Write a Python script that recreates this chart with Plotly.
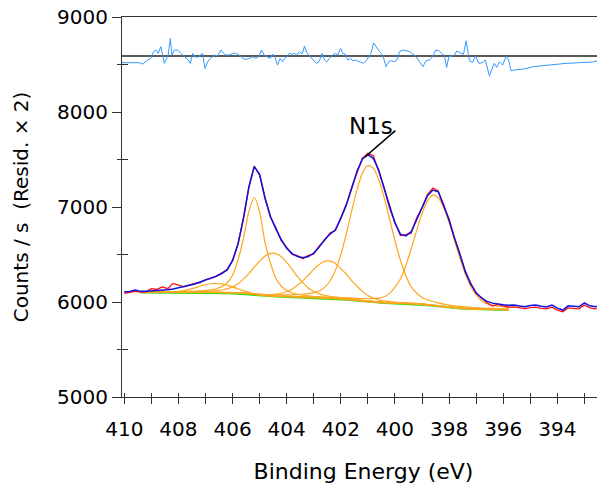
import plotly.graph_objects as go

# measured spectrum, binding energy (eV)
data_e = [
    410.0, 409.8, 409.6, 409.4, 409.2, 409.0, 408.8, 408.6, 408.4, 408.2,
    408.0, 407.8, 407.6, 407.4, 407.2, 407.0, 406.8, 406.6, 406.4, 406.2,
    406.0, 405.8, 405.6, 405.4, 405.2, 405.0, 404.8, 404.6, 404.4, 404.2,
    404.0, 403.8, 403.6, 403.4, 403.2, 403.0, 402.8, 402.6, 402.4, 402.2,
    402.0, 401.8, 401.6, 401.4, 401.2, 401.0, 400.8, 400.6, 400.4, 400.2,
    400.0, 399.8, 399.6, 399.4, 399.2, 399.0, 398.8, 398.6, 398.4, 398.2,
    398.0, 397.8, 397.6, 397.4, 397.2, 397.0, 396.8, 396.6, 396.4, 396.2,
    396.0, 395.8, 395.6, 395.4, 395.2, 395.0, 394.8, 394.6, 394.4, 394.2,
    394.0, 393.8, 393.6, 393.4, 393.2, 393.0, 392.8, 392.6, 392.4, 392.2,
]
counts = [
    6092, 6100, 6112, 6104, 6108, 6140, 6132, 6158, 6140, 6196,
    6182, 6160, 6178, 6196, 6205, 6235, 6248, 6270, 6306, 6335,
    6440, 6605, 6880, 7200, 7430, 7335, 7100, 6890, 6785, 6645,
    6575, 6500, 6488, 6455, 6490, 6505, 6590, 6648, 6725, 6752,
    6890, 7015, 7205, 7372, 7515, 7565, 7540, 7375, 7205, 6985,
    6845, 6700, 6710, 6725, 6885, 6990, 7130, 7200, 7168, 7005,
    6875, 6665, 6510, 6310, 6200, 6088, 6048, 5990, 5958, 5975,
    5958, 5945, 5948, 5935, 5930, 5940, 5946, 5932, 5928, 5945,
    5915, 5898, 5938, 5932, 5928, 5968, 5938, 5928, 5945, 5946,
]
envelope = [
    6108, 6110, 6126, 6112, 6112, 6115, 6120, 6125, 6130, 6138,
    6150, 6163, 6176, 6190, 6210, 6230, 6252, 6272, 6300, 6340,
    6435, 6612, 6875, 7210, 7425, 7345, 7090, 6900, 6770, 6655,
    6565, 6510, 6478, 6465, 6478, 6515, 6578, 6655, 6715, 6760,
    6880, 7025, 7195, 7380, 7505, 7550, 7512, 7390, 7195, 7000,
    6832, 6714, 6696, 6740, 6870, 7003, 7118, 7178, 7160, 7020,
    6860, 6675, 6495, 6322, 6188, 6097, 6040, 6006, 5988, 5976,
    5970, 5966, 5968, 5958, 5950, 5962, 5968, 5955, 5948, 5968,
    5935, 5915, 5960, 5955, 5950, 5990, 5960, 5950, 5965, 5968,
]

# fit region: background and components (component values are above background)
fit_e = [
    409.4, 409.2, 409.0, 408.8, 408.6, 408.4, 408.2, 408.0, 407.8, 407.6,
    407.4, 407.2, 407.0, 406.8, 406.6, 406.4, 406.2, 406.0, 405.8, 405.6,
    405.4, 405.2, 405.0, 404.8, 404.6, 404.4, 404.2, 404.0, 403.8, 403.6,
    403.4, 403.2, 403.0, 402.8, 402.6, 402.4, 402.2, 402.0, 401.8, 401.6,
    401.4, 401.2, 401.0, 400.8, 400.6, 400.4, 400.2, 400.0, 399.8, 399.6,
    399.4, 399.2, 399.0, 398.8, 398.6, 398.4, 398.2, 398.0, 397.8, 397.6,
    397.4, 397.2, 397.0, 396.8, 396.6, 396.4, 396.2, 396.0, 395.8,
]
background = [
    6100, 6100, 6100, 6100, 6100, 6100, 6100, 6099, 6099, 6099,
    6098, 6098, 6097, 6096, 6095, 6094, 6093, 6091, 6089, 6086,
    6081, 6075, 6069, 6064, 6061, 6058, 6056, 6054, 6052, 6050,
    6047, 6045, 6043, 6041, 6039, 6036, 6033, 6030, 6026, 6020,
    6014, 6008, 6002, 5997, 5993, 5990, 5988, 5986, 5984, 5982,
    5980, 5977, 5973, 5968, 5962, 5955, 5948, 5942, 5937, 5933,
    5929, 5926, 5924, 5922, 5921, 5920, 5919, 5918, 5917,
]
comp_a = [
    0, 0, 0, 0, 1, 3, 6, 12, 21, 34,
    50, 68, 84, 96, 100, 96, 84, 68, 50, 34,
    21, 12, 6, 3, 1, 0, 0, 0, 0, 0,
    0, 0, 0, 0, 0, 0, 0, 0, 0, 0,
    0, 0, 0, 0, 0, 0, 0, 0, 0, 0,
    0, 0, 0, 0, 0, 0, 0, 0, 0, 0,
    0, 0, 0, 0, 0, 0, 0, 0, 0,
]
comp_b = [
    5, 6, 6, 7, 7, 8, 9, 10, 11, 13,
    15, 19, 24, 32, 45, 68, 110, 190, 350, 580,
    870, 1025, 880, 560, 350, 190, 110, 68, 45, 32,
    24, 19, 15, 13, 11, 10, 9, 8, 7, 7,
    6, 6, 5, 5, 5, 5, 5, 4, 4, 4,
    4, 4, 4, 4, 4, 3, 3, 3, 3, 3,
    3, 3, 3, 3, 3, 3, 3, 3, 3,
]
comp_c = [
    6, 6, 6, 7, 7, 8, 8, 9, 10, 11,
    12, 14, 16, 19, 24, 32, 45, 68, 103, 155,
    218, 292, 362, 420, 451, 451, 420, 362, 292, 218,
    155, 103, 68, 45, 32, 24, 19, 16, 14, 12,
    11, 10, 9, 8, 8, 7, 7, 6, 6, 6,
    5, 5, 5, 5, 4, 4, 4, 4, 4, 4,
    4, 4, 3, 3, 3, 3, 3, 3, 3,
]
comp_d = [
    3, 3, 3, 3, 3, 3, 3, 4, 4, 4,
    4, 4, 5, 5, 5, 6, 6, 7, 8, 8,
    9, 10, 12, 14, 18, 25, 36, 54, 84, 128,
    178, 238, 300, 353, 388, 395, 373, 322, 268, 205,
    152, 104, 67, 44, 30, 21, 16, 13, 11, 10,
    9, 8, 7, 7, 6, 6, 5, 5, 5, 4,
    4, 4, 4, 4, 3, 3, 3, 3, 3,
]
comp_e = [
    4, 4, 4, 4, 4, 5, 5, 5, 6, 6,
    6, 7, 7, 8, 8, 9, 9, 10, 10, 11,
    12, 13, 14, 15, 16, 18, 20, 22, 25, 29,
    35, 43, 55, 75, 115, 185, 300, 468, 689, 936,
    1171, 1351, 1436, 1412, 1294, 1109, 886, 659, 458, 297,
    180, 118, 75, 55, 43, 35, 30, 26, 23, 21,
    19, 17, 15, 14, 13, 12, 11, 10, 10,
]
comp_f = [
    3, 3, 3, 3, 3, 3, 3, 3, 3, 3,
    3, 3, 4, 4, 4, 4, 4, 5, 5, 5,
    5, 6, 6, 6, 7, 7, 8, 8, 9, 9,
    10, 10, 11, 12, 13, 14, 15, 17, 19, 21,
    24, 27, 32, 38, 48, 65, 103, 170, 259, 402,
    580, 775, 959, 1096, 1165, 1142, 1046, 894, 712, 529,
    366, 237, 150, 92, 62, 46, 38, 33, 29,
]
components = [comp_a, comp_b, comp_c, comp_d, comp_e, comp_f]

# residual (x2), drawn about its own zero level
resid_zero = 8589
resid_e = [
    410.1, 409.45, 409.32, 409.14, 409.02, 408.92, 408.83, 408.75, 408.65, 408.59,
    408.52, 408.43, 408.38, 408.30, 408.24, 408.15, 408.03, 407.91, 407.78, 407.64,
    407.56, 407.48, 407.39, 407.29, 407.19, 407.11, 407.02, 406.92, 406.82, 406.74,
    406.65, 406.55, 406.43, 406.33, 406.25, 406.12, 406.00, 405.88, 405.75, 405.63,
    405.51, 405.38, 405.26, 405.14, 405.01, 404.93, 404.83, 404.73, 404.61, 404.52,
    404.44, 404.34, 404.24, 404.15, 404.07, 403.97, 403.90, 403.80, 403.71, 403.63,
    403.53, 403.43, 403.34, 403.26, 403.16, 403.03, 402.91, 402.81, 402.69, 402.60,
    402.52, 402.42, 402.30, 402.20, 402.11, 402.01, 401.93, 401.84, 401.74, 401.64,
    401.56, 401.46, 401.37, 401.25, 401.16, 401.06, 400.97, 400.88, 400.79, 400.69,
    400.57, 400.45, 400.33, 400.23, 400.14, 400.02, 399.93, 399.83, 399.71, 399.59,
    399.46, 399.34, 399.22, 399.09, 398.97, 398.85, 398.73, 398.60, 398.50, 398.38,
    398.26, 398.17, 398.09, 398.01, 397.89, 397.80, 397.72, 397.59, 397.47, 397.37,
    397.25, 397.13, 397.03, 396.90, 396.78, 396.66, 396.51, 396.41, 396.33, 396.24,
    396.14, 396.02, 395.89, 395.80, 395.71, 395.59, 395.40, 395.16, 394.91, 394.66,
    394.42, 394.17, 393.68, 393.19, 392.70, 392.51, 392.26, 392.0,
]
resid_v = [
    -70, -70, -84, -42, -25, 46, 63, 28, 98, 11,
    -77, -25, 11, 186, 11, 63, 63, 28, -7, -42,
    -77, 28, -7, -14, 11, 28, -130, -60, -25, -7,
    11, 0, 63, 28, 11, 11, 28, 28, 11, -25,
    -35, -25, -7, -25, 0, 63, 11, -7, -25, 21,
    -7, -95, -25, -60, -25, 0, 28, 21, 28, 11,
    46, 21, 105, 35, 0, -42, -77, -60, 28, -42,
    -60, -25, 11, 28, 11, 81, 28, 21, -42, -25,
    -49, -42, -53, -67, -77, -49, -7, 35, 140, 91,
    46, 11, -112, -60, -49, -60, -42, 46, 63, 56,
    46, 21, -7, -60, -112, -49, -42, -7, 63, 56,
    28, 0, -119, -7, 0, 11, 53, 35, 18, 161,
    -49, -67, 0, -77, -70, -42, -211, -130, -77, -119,
    -60, -95, 0, -42, -154, -147, -140, -133, -112, -105,
    -95, -84, -77, -70, -63, -49, -49, -49,
]

x_range = [410.085, 392.24]
y_range = [5000, 9000]
peak_label = "N1s"
label_pos = (400.88, 7850)
leader_from = (399.93, 7818)
leader_to = (401.1, 7529)

FONT = "DejaVu Sans"

fig = go.Figure()

# residual zero line and residual
fig.add_trace(go.Scatter(x=x_range, y=[resid_zero, resid_zero], mode="lines",
                         line=dict(color="#222222", width=1.6), hoverinfo="skip"))
fig.add_trace(go.Scatter(x=resid_e, y=[resid_zero + v for v in resid_v], mode="lines",
                         line=dict(color="#3399ff", width=1), hoverinfo="skip"))

# background
fig.add_trace(go.Scatter(x=fit_e, y=background, mode="lines",
                         line=dict(color="#33dd11", width=2.2), hoverinfo="skip"))

# components on background
for comp in components:
    fig.add_trace(go.Scatter(
        x=fit_e, y=[b + c for b, c in zip(background, comp)], mode="lines",
        line=dict(color="#ffa51f", width=1.2, shape="spline", smoothing=0.6),
        hoverinfo="skip",
    ))

# data and envelope
fig.add_trace(go.Scatter(x=data_e, y=counts, mode="lines",
                         line=dict(color="#ff1010", width=1.3), hoverinfo="skip"))
fig.add_trace(go.Scatter(x=data_e, y=envelope, mode="lines",
                         line=dict(color="#1010e0", width=1.5), hoverinfo="skip"))

# empty trace for the overlay axes (inner halves of the crossing ticks)
fig.add_trace(go.Scatter(x=[None], y=[None], xaxis="x2", yaxis="y2",
                         showlegend=False, hoverinfo="skip"))

fig.add_annotation(x=leader_to[0], y=leader_to[1], ax=leader_from[0], ay=leader_from[1],
                   axref="x", ayref="y", text="", showarrow=True, arrowhead=0,
                   arrowwidth=1.6, arrowcolor="black")
fig.add_annotation(x=label_pos[0], y=label_pos[1], text=peak_label, showarrow=False,
                   font=dict(family=FONT, size=23, color="black"))

# the page body adds an 8 px offset, so the figure is 8 px smaller each way
fig.update_layout(
    width=597, height=480,
    paper_bgcolor="white", plot_bgcolor="white",
    margin=dict(l=114, r=0, t=9, b=91, autoexpand=False),
    showlegend=False,
    font=dict(family=FONT, size=20, color="black"),
    xaxis=dict(
        range=x_range, showgrid=False, zeroline=False, automargin=False,
        showline=True, linecolor="#333333", linewidth=1, mirror=True,
        ticks="outside", ticklen=6, tickcolor="#333333",
        tickmode="linear", tick0=410, dtick=2,
        minor=dict(dtick=1, ticks="outside", ticklen=6, tickcolor="#333333"),
        tickfont=dict(family=FONT, size=20, color="black"),
        ticklabelstandoff=8, ticklabeloverflow="allow",
        title=dict(text="Binding Energy (eV)", standoff=23,
                   font=dict(family=FONT, size=22, color="black")),
    ),
    yaxis=dict(
        range=y_range, showgrid=False, zeroline=False, automargin=False,
        showline=True, linecolor="#333333", linewidth=1,
        ticks="outside", ticklen=9, tickcolor="#333333",
        tickmode="linear", tick0=5000, dtick=1000,
        minor=dict(dtick=500, ticks="outside", ticklen=4, tickcolor="#333333"),
        tickfont=dict(family=FONT, size=20, color="black"),
        ticklabeloverflow="allow",
        title=dict(text="Counts / s\u00a0 (Resid. \u00d7 2)", standoff=23,
                   font=dict(family=FONT, size=20, color="black")),
    ),
    xaxis2=dict(
        overlaying="x", anchor="y", side="bottom", range=x_range,
        showgrid=False, zeroline=False, showline=False, showticklabels=False,
        ticks="inside", ticklen=4, tickcolor="#333333",
        tickmode="linear", tick0=410, dtick=1,
    ),
    yaxis2=dict(
        overlaying="y", anchor="x", side="left", range=y_range,
        showgrid=False, zeroline=False, showline=False, showticklabels=False,
        ticks="inside", ticklen=6, tickcolor="#333333",
        tickmode="array", tickvals=[5500, 6500, 7500, 8500],
    ),
)

fig.write_html("out.html")
